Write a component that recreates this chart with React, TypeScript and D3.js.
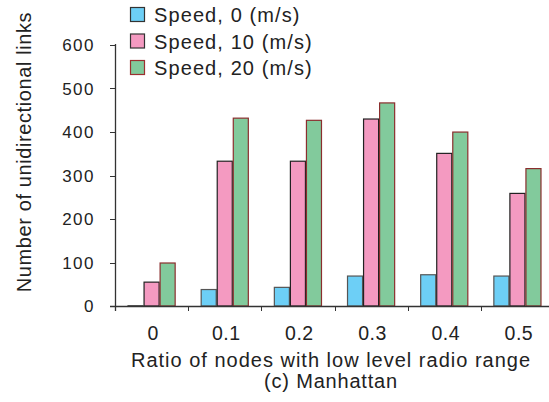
import React, { useEffect, useRef } from "react";
import * as d3 from "d3";

const categories = ["0", "0.1", "0.2", "0.3", "0.4", "0.5"];
const seriesNames = ["Speed, 0 (m/s)", "Speed, 10 (m/s)", "Speed, 20 (m/s)"];
const speed0 = [2, 39, 44, 70, 73, 70];
const speed10 = [56, 334, 334, 431, 352, 260];
const speed20 = [100, 433, 428, 468, 401, 317];
const yTicks = [0, 100, 200, 300, 400, 500, 600];

const fills = ["#6dcff6", "#f49ac1", "#82ca9c"];
const strokes = ["#555555", "#222222", "#8b2e2e"];

const App = () => {
  const svgRef = useRef<SVGSVGElement>(null);

  useEffect(() => {
    const width = 549;
    const height = 402;
    const svg = d3.select(svgRef.current)
      .attr("width", width)
      .attr("height", height);
    svg.selectAll("*").remove();

    const font = "Liberation Sans, Arial, sans-serif";
    const values = [speed0, speed10, speed20];

    const x0 = d3.scaleBand().domain(categories).range([115, 554]).padding(0);
    const x1 = d3.scaleBand().domain(seriesNames).range([0, x0.bandwidth()]).paddingInner(0).paddingOuter(0.78);
    const y = d3.scaleLinear().domain([0, 600]).range([306, 45]);

    // bars
    seriesNames.forEach((s, si) => {
      svg.append("g")
        .selectAll("rect")
        .data(categories)
        .enter()
        .append("rect")
        .attr("x", c => (x0(c) ?? 0) + (x1(s) ?? 0) + 0.5)
        .attr("y", (c, i) => y(values[si][i]) + 0.5)
        .attr("width", x1.bandwidth() - 1)
        .attr("height", (c, i) => Math.max(0, y(0) - y(values[si][i]) - 0.5))
        .attr("fill", fills[si])
        .attr("stroke", strokes[si])
        .attr("stroke-width", 1.2);
    });

    // axes
    const axisColor = "#333";
    svg.append("line")
      .attr("x1", 115.5).attr("x2", 115.5)
      .attr("y1", y(600) - 1).attr("y2", y(0) + 5)
      .attr("stroke", axisColor).attr("stroke-width", 1.3);
    svg.append("line")
      .attr("x1", 110).attr("x2", 554)
      .attr("y1", 306.5).attr("y2", 306.5)
      .attr("stroke", axisColor).attr("stroke-width", 1.3);

    svg.append("g")
      .selectAll("line")
      .data(yTicks)
      .enter()
      .append("line")
      .attr("x1", 110).attr("x2", 115.5)
      .attr("y1", d => Math.round(y(d)) + 0.5)
      .attr("y2", d => Math.round(y(d)) + 0.5)
      .attr("stroke", axisColor);

    svg.append("g")
      .selectAll("text")
      .data(yTicks)
      .enter()
      .append("text")
      .attr("x", 95)
      .attr("y", d => y(d) + 6)
      .attr("text-anchor", "end")
      .style("font-family", font)
      .style("font-size", "17px")
      .style("letter-spacing", "1.5px")
      .style("fill", "#222")
      .text(d => d);

    const boundaries = categories.map(c => x0(c) ?? 0).concat([x0.range()[1]]);
    svg.append("g")
      .selectAll("line")
      .data(boundaries)
      .enter()
      .append("line")
      .attr("x1", d => Math.round(d) + 0.5).attr("x2", d => Math.round(d) + 0.5)
      .attr("y1", 306).attr("y2", 311)
      .attr("stroke", axisColor);

    svg.append("g")
      .selectAll("text")
      .data(categories)
      .enter()
      .append("text")
      .attr("x", c => (x0(c) ?? 0) + x0.bandwidth() / 2 + 1.5)
      .attr("y", 340)
      .attr("text-anchor", "middle")
      .style("font-family", font)
      .style("font-size", "19.5px")
      .style("letter-spacing", "0.5px")
      .style("fill", "#222")
      .text(c => c);

    svg.append("text")
      .attr("x", 331)
      .attr("y", 367)
      .attr("text-anchor", "middle")
      .style("font-family", font)
      .style("font-size", "20px")
      .style("letter-spacing", "1px")
      .style("fill", "#222")
      .text("Ratio of nodes with low level radio range");

    svg.append("text")
      .attr("x", 331)
      .attr("y", 388)
      .attr("text-anchor", "middle")
      .style("font-family", font)
      .style("font-size", "20px")
      .style("letter-spacing", "0.8px")
      .style("fill", "#222")
      .text("(c) Manhattan");

    svg.append("text")
      .attr("transform", "translate(31,152) rotate(-90)")
      .attr("text-anchor", "middle")
      .style("font-family", font)
      .style("font-size", "20px")
      .style("letter-spacing", "0.6px")
      .style("fill", "#222")
      .text("Number of unidirectional links");

    // legend
    const legend = svg.append("g");
    seriesNames.forEach((s, i) => {
      const ly = 7 + i * 26.5;
      legend.append("rect")
        .attr("x", 130.5).attr("y", ly + 0.5)
        .attr("width", 14).attr("height", 14)
        .attr("fill", fills[i])
        .attr("stroke", i === 2 ? "#9b3030" : "#333")
        .attr("stroke-width", 1.2);
      legend.append("text")
        .attr("x", 154)
        .attr("y", ly + 15)
        .style("font-family", font)
        .style("font-size", "20px")
        .style("letter-spacing", "1.1px")
        .style("fill", "#222")
        .text(s);
    });
  }, []);

  return (
    <div style={{ position: "absolute", left: 0, top: 0 }}>
      <svg ref={svgRef}></svg>
    </div>
  );
};

export default App;
